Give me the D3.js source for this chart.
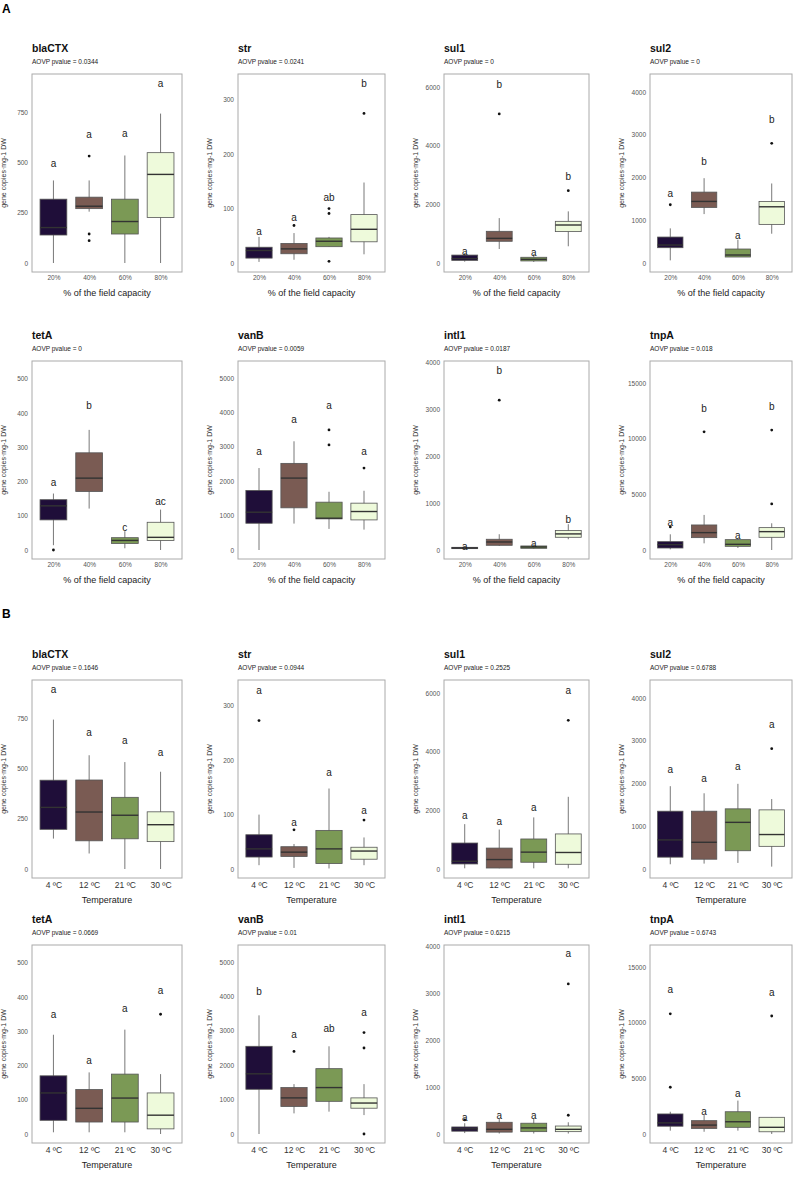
<!DOCTYPE html>
<html>
<head>
<meta charset="utf-8">
<script src="https://cdn.jsdelivr.net/npm/d3@7"></script>
<style>
  body { margin: 0; background: #fff; }
  text { font-family: "Liberation Sans", Arial, sans-serif; }
</style>
</head>
<body>
<div id="container"></div>
<script>
// genes, in panel order (4 per row)
const genes = ["blaCTX", "str", "sul1", "sul2", "tetA", "vanB", "intl1", "tnpA"];
const yTicks = [
  [0, 250, 500, 750], [0, 100, 200, 300], [0, 2000, 4000, 6000], [0, 1000, 2000, 3000, 4000],
  [0, 100, 200, 300, 400, 500], [0, 1000, 2000, 3000, 4000, 5000], [0, 1000, 2000, 3000, 4000], [0, 5000, 10000, 15000]
];
// upper limit of the y axis before the 5% expansion
const yMax = [894, 331, 6135, 4210, 526, 5234, 3837, 16171];

// A: humidity
const humidityLevels = ["20%", "40%", "60%", "80%"];
const humidityPvalues = ["0.0344", "0.0241", "0", "0", "0", "0.0059", "0.0187", "0.018"];
// [whisker low, q1, median, q3, whisker high]
const humidityBoxes = [
  [[0, 139, 176, 317, 410], [255, 270, 282, 327, 410], [0, 144, 206, 317, 534], [0, 226, 440, 548, 742]],
  [[2, 9, 23, 29, 48], [6, 17, 26, 36, 55], [30, 30, 40, 46, 48], [16, 39, 62, 89, 148]],
  [[45, 90, 150, 270, 340], [477, 740, 840, 1080, 1530], [35, 70, 125, 195, 300], [570, 1070, 1295, 1420, 1760]],
  [[62, 358, 420, 607, 810], [1144, 1300, 1440, 1658, 1984], [140, 140, 187, 327, 545], [685, 903, 1315, 1440, 1860]],
  [[14, 88, 129, 147, 165], [121, 171, 210, 284, 351], [5, 19, 28, 36, 55], [0, 28, 37, 81, 118]],
  [[0, 778, 1099, 1732, 2383], [768, 1226, 2091, 2519, 3161], [613, 905, 924, 1391, 1693], [593, 875, 1119, 1362, 1722]],
  [[14, 29, 43, 57, 71], [86, 100, 171, 229, 336], [29, 36, 64, 86, 121], [229, 271, 343, 414, 550]],
  [[60, 180, 480, 750, 1410], [600, 1110, 1560, 2250, 3150], [180, 330, 510, 930, 1050], [0, 1140, 1650, 2010, 2400]]
];
const humidityOutliers = [
  [[], [531, 144, 111], [], []],
  [[], [69], [3, 91, 100], [275]],
  [[], [5080], [], [2465]],
  [[1362], [], [], [2800]],
  [[0], [], [], []],
  [[], [], [3054, 3492], [2383]],
  [[], [3193], [], []],
  [[2070], [10620], [], [4140, 10770]]
];
const humidityLetters = [
  ["a", "a", "a", "a"], ["a", "a", "ab", "b"], ["a", "b", "a", "b"], ["a", "b", "a", "b"],
  ["a", "b", "c", "ac"], ["a", "a", "a", "a"], ["a", "b", "a", "b"], ["a", "b", "a", "b"]
];

// B: temperature
const temperatureLevels = ["4 ºC", "12 ºC", "21 ºC", "30 ºC"];
const temperaturePvalues = ["0.1646", "0.0944", "0.2525", "0.6788", "0.0669", "0.01", "0.6215", "0.6743"];
const temperatureBoxes = [
  [[151, 197, 306, 441, 742], [77, 140, 283, 442, 565], [0, 150, 267, 356, 531], [0, 136, 220, 284, 483]],
  [[7, 22, 37, 63, 100], [2, 23, 31, 41, 46], [1, 10, 37, 71, 148], [7, 18, 33, 40, 58]],
  [[23, 172, 264, 885, 1529], [23, 34, 322, 713, 1345], [23, 230, 575, 1023, 1759], [23, 161, 563, 1195, 2460]],
  [[111, 277, 680, 1352, 1937], [126, 229, 625, 1352, 1771], [142, 427, 1091, 1407, 1992], [55, 530, 806, 1383, 1636]],
  [[5, 40, 120, 170, 290], [5, 35, 75, 130, 180], [5, 35, 105, 175, 305], [0, 15, 55, 120, 175]],
  [[0, 1300, 1750, 2550, 3450], [600, 800, 1050, 1350, 1450], [650, 950, 1350, 1900, 2550], [550, 750, 900, 1050, 1450]],
  [[20, 60, 110, 150, 230], [10, 40, 100, 250, 320], [10, 50, 130, 230, 330], [10, 50, 100, 170, 250]],
  [[300, 700, 1000, 1800, 2000], [200, 500, 800, 1200, 1700], [300, 600, 1100, 2000, 3000], [0, 200, 600, 1500, 1500]]
];
const temperatureOutliers = [
  [[], [], [], []],
  [[273], [72], [], [90]],
  [[], [], [], [5069]],
  [[], [], [], [2814]],
  [[], [], [], [350]],
  [[], [2400], [], [0, 2500, 2950]],
  [[300], [], [], [400, 3200]],
  [[4200, 10800], [], [], [10600]]
];
const temperatureLetters = [
  ["a", "a", "a", "a"], ["a", "a", "a", "a"], ["a", "a", "a", "a"], ["a", "a", "a", "a"],
  ["a", "a", "a", "a"], ["b", "a", "ab", "a"], ["a", "a", "a", "a"], ["a", "a", "a", "a"]
];

const fills = ["#1f0e39", "#7a5b53", "#7b9955", "#eefadb"];

let w = 794;
let h = 1189;

let viz = d3.select("#container")
  .append("svg")
    .attr("width", w)
    .attr("height", h)
    .style("background-color", "white");

// panel box edges per column, tops per row
let colLeft = [32, 238, 444, 650];
let colRight = [182, 385, 589, 792];
let boxH = 198;

function drawPanel(gi, top, levels, boxes, outliers, letters, pvalue, xTitle, bigTicks) {
  let col = gi % 4;
  let x0 = colLeft[col], x1 = colRight[col];
  let bottom = top + boxH;
  let M = yMax[gi];

  let x = d3.scalePoint().domain(levels).range([x0, x1]).padding(0.6);
  let y = d3.scaleLinear().domain([-0.05 * M, 1.05 * M]).range([bottom, top]);
  let bw = x.step() * 0.75;

  let g = viz.append("g");

  g.append("text").attr("x", x0).attr("y", top - 22)
    .text(genes[gi]).style("font-size", "10.5px").style("font-weight", "bold").attr("fill", "#111");
  g.append("text").attr("x", x0).attr("y", top - 10)
    .text("AOVP pvalue = " + pvalue).style("font-size", "6.5px").attr("fill", "#222");

  let yAxis = g.append("g").attr("transform", "translate(" + x0 + ",0)")
    .call(d3.axisLeft(y).tickValues(yTicks[gi]).tickFormat(d3.format("d")).tickSize(0).tickPadding(4));
  yAxis.select(".domain").remove();
  yAxis.selectAll("text").style("font-size", "6.5px").attr("fill", "#555")
    .style("font-family", "Liberation Sans, Arial, sans-serif");

  let xAxis = g.append("g").attr("transform", "translate(0," + bottom + ")")
    .call(d3.axisBottom(x).tickSize(0).tickPadding(bigTicks ? 4 : 3));
  xAxis.select(".domain").remove();
  xAxis.selectAll("text").style("font-size", bigTicks ? "8.5px" : "6.5px")
    .attr("fill", bigTicks ? "#333" : "#555")
    .style("font-family", "Liberation Sans, Arial, sans-serif");

  g.append("text")
    .attr("transform", "translate(" + (x0 - 26) + "," + (top + boxH / 2) + ") rotate(-90)")
    .attr("text-anchor", "middle")
    .text("gene copies·mg-1 DW").style("font-size", "7px").attr("fill", "#333");

  g.append("text").attr("x", (x0 + x1) / 2).attr("y", bottom + (bigTicks ? 25 : 24))
    .attr("text-anchor", "middle").text(xTitle).style("font-size", "9px").attr("fill", "#222");

  let rows = levels.map(function(lv, i) {
    return { level: lv, s: boxes[i], out: outliers[i], letter: letters[i], fill: fills[i] };
  });

  let groups = g.selectAll(".bx").data(rows).enter().append("g").attr("class", "bx");

  groups.append("line")
    .attr("x1", d => x(d.level)).attr("x2", d => x(d.level))
    .attr("y1", d => y(d.s[0])).attr("y2", d => y(d.s[4]))
    .attr("stroke", "#555").attr("stroke-width", 0.8);

  groups.append("rect")
    .attr("x", d => x(d.level) - bw / 2).attr("width", bw)
    .attr("y", d => y(d.s[3])).attr("height", d => Math.max(0.5, y(d.s[1]) - y(d.s[3])))
    .attr("fill", d => d.fill).attr("stroke", "#555").attr("stroke-width", 0.8);

  groups.append("line")
    .attr("x1", d => x(d.level) - bw / 2).attr("x2", d => x(d.level) + bw / 2)
    .attr("y1", d => y(d.s[2])).attr("y2", d => y(d.s[2]))
    .attr("stroke", "#333").attr("stroke-width", 1.4);

  groups.selectAll(".out").data(d => d.out.map(v => ({ level: d.level, v: v }))).enter()
    .append("circle")
      .attr("cx", d => x(d.level)).attr("cy", d => y(d.v)).attr("r", 1.4).attr("fill", "#111");

  // letters sit at 1.2 x the highest point of each group
  groups.append("text")
    .attr("x", d => x(d.level))
    .attr("y", d => y(1.2 * d3.max([d.s[4]].concat(d.out))))
    .attr("dy", "0.35em").attr("text-anchor", "middle")
    .text(d => d.letter).style("font-size", "10px").attr("fill", "#222");

  g.append("rect").attr("x", x0).attr("y", top).attr("width", x1 - x0).attr("height", boxH)
    .attr("fill", "none").attr("stroke", "#aaa").attr("stroke-width", 1);
}

viz.append("text").attr("x", 2).attr("y", 13).text("A")
  .style("font-size", "12px").style("font-weight", "bold");
viz.append("text").attr("x", 2).attr("y", 618).text("B")
  .style("font-size", "12px").style("font-weight", "bold");

let topsA = [74, 361];
let topsB = [680, 945];

genes.forEach(function(gene, gi) {
  let r = Math.floor(gi / 4);
  drawPanel(gi, topsA[r], humidityLevels, humidityBoxes[gi], humidityOutliers[gi], humidityLetters[gi],
    humidityPvalues[gi], "% of the field capacity", false);
  drawPanel(gi, topsB[r], temperatureLevels, temperatureBoxes[gi], temperatureOutliers[gi], temperatureLetters[gi],
    temperaturePvalues[gi], "Temperature", true);
});
</script>
</body>
</html>
